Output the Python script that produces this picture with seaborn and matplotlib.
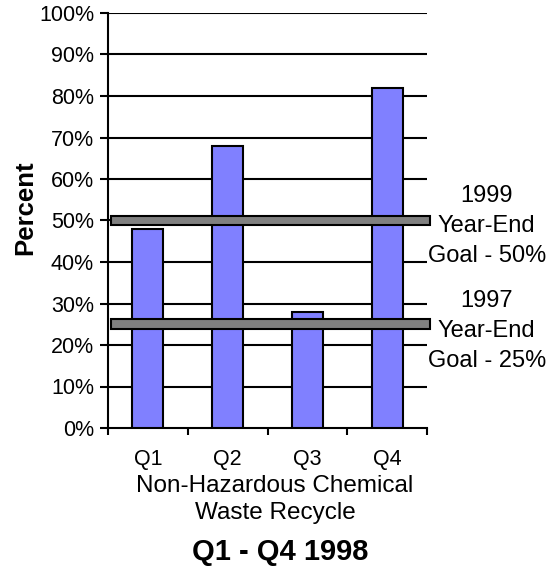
import matplotlib
matplotlib.use("Agg")
import matplotlib.pyplot as plt
import seaborn as sns
import pandas as pd
from matplotlib.patches import Rectangle

quarters = ["Q1", "Q2", "Q3", "Q4"]
percent = [48, 68, 28, 82]
goal_values = [50, 25]
goal_labels = ["1999\nYear-End\nGoal - 50%", "1997\nYear-End\nGoal - 25%"]
yticks = list(range(0, 101, 10))
ytick_labels = [f"{v}%" for v in yticks]

sns.set_theme(style="white")
plt.rcParams['font.family'] = ['Liberation Sans', 'DejaVu Sans']
for k in ["text.color", "axes.labelcolor", "xtick.color", "ytick.color"]:
    plt.rcParams[k] = "black"

W, H = 548, 568
fig = plt.figure(figsize=(W / 100, H / 100), dpi=100)
ax = fig.add_axes([108 / W, 1 - 428 / H, (427 - 108) / W, (428 - 13) / H])

df = pd.DataFrame({"Quarter": quarters, "Percent": percent})
sns.barplot(data=df, x="Quarter", y="Percent", ax=ax, color="#8080FF",
            saturation=1, width=0.39, edgecolor="black", linewidth=1.5, zorder=3)

ax.set_ylim(0, 100)
ax.set_xlim(-0.5, 3.5)
ax.set_yticks(yticks)
ax.set_yticklabels(ytick_labels, fontsize=15.5)
for y in yticks[1:]:
    ax.axhline(y, color="black", lw=1.5, zorder=1)

ax.set_xticks([-0.5, 0.5, 1.5, 2.5, 3.5])
ax.set_xticklabels([])
for i, q in enumerate(quarters):
    ax.text(i, -7.7, q, ha="center", va="center", fontsize=15.5, clip_on=False)
ax.tick_params(axis="x", direction="out", length=5, width=1.5, color="black", bottom=True)
ax.tick_params(axis="y", direction="out", length=6, width=1.5, color="black", left=True, pad=4)
ax.set_xlabel("")
ax.set_ylabel("")

for s in ["top", "right"]:
    ax.spines[s].set_visible(False)
for s in ["left", "bottom"]:
    ax.spines[s].set_color("black")
    ax.spines[s].set_linewidth(1.5)

# goal bars
for g in goal_values:
    ax.add_patch(Rectangle((-0.46, g - 1.15), 4.0, 2.3, facecolor="#808080",
                           edgecolor="black", lw=1.5, clip_on=False, zorder=5))
goal_text_y = [48.7, 23.4]
for ty, lab in zip(goal_text_y, goal_labels):
    ax.text(3.5 + 60 / 80, ty, lab, ha="center", va="center", fontsize=17,
            linespacing=1.48, clip_on=False)

fig.text(25 / W, 1 - 208 / H, "Percent", rotation=90, ha="center", va="center",
         fontsize=18.5, fontweight="bold")
fig.text(275 / W, 1 - 499.5 / H, "Non-Hazardous Chemical\nWaste Recycle", ha="center",
         va="center", fontsize=17.5, linespacing=1.3)
fig.text(280 / W, 1 - 552 / H, "Q1 - Q4 1998", ha="center", va="center",
         fontsize=21, fontweight="bold")

fig.savefig("out.png", dpi=100, facecolor="white")
